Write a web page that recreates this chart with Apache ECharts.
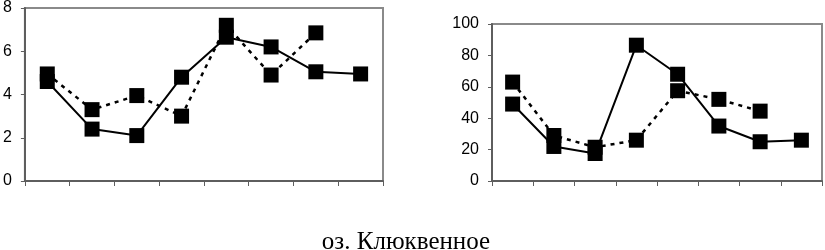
<!DOCTYPE html>
<html>
<head>
<meta charset="utf-8">
<script src="https://cdn.jsdelivr.net/npm/echarts@6/dist/echarts.min.js"></script>
<style>
  html, body { margin: 0; padding: 0; background: #fff; }
  #main { width: 825px; height: 250px; }
</style>
</head>
<body>
<div id="main"></div>
<script>
// categories (no labels shown on the x axis)
const categories = ['1', '2', '3', '4', '5', '6', '7', '8'];

// left panel
const leftSolid = [4.6, 2.4, 2.1, 4.8, 6.65, 6.2, 5.05, 4.95];
const leftDotted = [4.95, 3.3, 3.95, 3.0, 7.2, 4.9, 6.85, null];
const leftTicks = [0, 2, 4, 6, 8];

// right panel
const rightSolid = [49, 22, 17.5, 86.5, 68, 35, 25, 26];
const rightDotted = [63, 29, 21.5, 26, 57.5, 52, 44.5, null];
const rightTicks = [0, 20, 40, 60, 80, 100];

const caption = 'оз. Клюквенное';

const chart = echarts.init(document.getElementById('main'));

const axisGray = '#5e5e5e';
const labelFont = { color: '#000', fontFamily: 'Liberation Sans', fontSize: 16 };

function xAxis(gridIndex) {
  return {
    type: 'category',
    gridIndex,
    data: categories,
    boundaryGap: true,
    axisLine: { lineStyle: { color: axisGray, width: 2 } },
    axisTick: { show: true, length: 5, lineStyle: { color: axisGray, width: 1 } },
    axisLabel: { show: false },
    splitLine: { show: false }
  };
}

function yAxis(gridIndex, ticks) {
  return {
    type: 'value',
    gridIndex,
    min: ticks[0],
    max: ticks[ticks.length - 1],
    interval: ticks[1] - ticks[0],
    axisLine: { show: true, lineStyle: { color: axisGray, width: 2 } },
    axisTick: { show: true, length: 4, lineStyle: { color: axisGray, width: 1 } },
    axisLabel: Object.assign({ margin: 13 }, labelFont),
    splitLine: { show: false }
  };
}

function line(data, idx, dashed) {
  return {
    type: 'line',
    xAxisIndex: idx,
    yAxisIndex: idx,
    data: data,
    symbol: 'rect',
    symbolSize: 15,
    itemStyle: { color: '#000' },
    lineStyle: dashed
      ? { color: '#000', width: 2.5, type: [4, 5] }
      : { color: '#000', width: 2 },
    connectNulls: false,
    animation: false,
    z: dashed ? 2 : 3
  };
}

const option = {
  backgroundColor: '#fff',
  animation: false,
  grid: [
    { left: 23, top: 8, width: 360, height: 173, show: true, borderColor: '#8a8a8a', borderWidth: 2, containLabel: false },
    { left: 492, top: 24, width: 330, height: 157, show: true, borderColor: '#8a8a8a', borderWidth: 2, containLabel: false }
  ],
  xAxis: [xAxis(0), xAxis(1)],
  yAxis: [yAxis(0, leftTicks), yAxis(1, rightTicks)],
  series: [
    line(leftDotted, 0, true),
    line(leftSolid, 0, false),
    line(rightDotted, 1, true),
    line(rightSolid, 1, false)
  ],
  graphic: [{
    type: 'text',
    x: 406,
    y: 230,
    style: {
      text: caption,
      fill: '#000',
      font: '25px "Liberation Serif"',
      textAlign: 'center'
    }
  }]
};

chart.setOption(option);
</script>
</body>
</html>
